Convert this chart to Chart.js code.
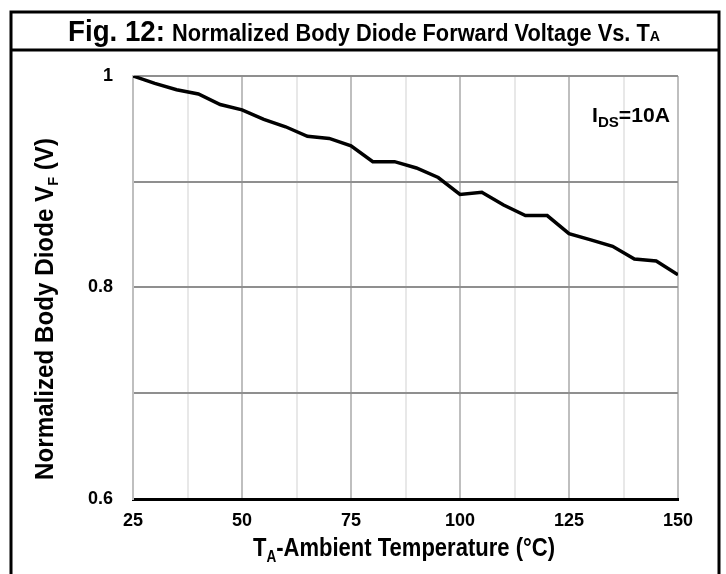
<!DOCTYPE html>
<html>
<head>
<meta charset="utf-8">
<script src="https://cdn.jsdelivr.net/npm/chart.js@4.4.1/dist/chart.umd.min.js"></script>
<style>
  html, body { margin: 0; padding: 0; background: #fff; }
  #wrap { width: 726px; height: 574px; position: relative; }
</style>
</head>
<body>
<div id="wrap"><canvas id="vfChart" width="726" height="574"></canvas></div>
<script>
// temperature (degC) and normalized forward voltage
var temps = [25, 30, 35, 40, 45, 50, 55, 60, 65, 70, 75, 80, 85, 90, 95, 100, 105, 110, 115, 120, 125, 130, 135, 140, 145, 150];
var vfNorm = [1.000, 0.993, 0.987, 0.983, 0.973, 0.968, 0.959, 0.952, 0.943, 0.941, 0.934, 0.919, 0.919, 0.913, 0.904, 0.888, 0.890, 0.878, 0.868, 0.868, 0.851, 0.845, 0.839, 0.827, 0.825, 0.812];
var xLabels = [25, 50, 75, 100, 125, 150];
var yLabels = [0.6, 0.8, 1];

var FONT = '"Liberation Sans", Arial, sans-serif';

var points = temps.map(function (t, i) { return { x: t, y: vfNorm[i] }; });

// draws text made of pieces (normal + subscript), squeezed to a given width
// so it looks like the narrow face of the original
function drawPieces(ctx, pieces, x, y, width) {
    var total = 0;
    pieces.forEach(function (p) { ctx.font = p.font; total += ctx.measureText(p.t).width; });
    var sx = width / total;
    ctx.save();
    ctx.translate(x, y);
    ctx.scale(sx, 1);
    ctx.textAlign = 'left';
    ctx.textBaseline = 'alphabetic';
    var cx = 0;
    pieces.forEach(function (p) {
        ctx.font = p.font;
        ctx.fillText(p.t, cx, p.dy || 0);
        cx += ctx.measureText(p.t).width;
    });
    ctx.restore();
}

var decorations = {
    id: 'decorations',
    afterDraw: function (chart) {
        var ctx = chart.ctx;
        ctx.save();
        ctx.fillStyle = '#000';
        ctx.strokeStyle = '#000';
        ctx.lineWidth = 3;
        // frame around the figure
        ctx.beginPath();
        ctx.moveTo(11, 574); ctx.lineTo(11, 12); ctx.lineTo(719, 12); ctx.lineTo(719, 574);
        ctx.moveTo(11, 50); ctx.lineTo(719, 50);
        ctx.stroke();

        // figure title
        drawPieces(ctx, [{ t: 'Fig. 12:', font: 'bold 29px ' + FONT }], 68, 41, 97);
        drawPieces(ctx, [
            { t: 'Normalized Body Diode Forward Voltage Vs. T', font: 'bold 23px ' + FONT },
            { t: 'A', font: 'bold 15px ' + FONT }
        ], 172, 41, 488);

        // x axis title
        drawPieces(ctx, [
            { t: 'T', font: 'bold 26px ' + FONT },
            { t: 'A', font: 'bold 16px ' + FONT, dy: 6 },
            { t: '-Ambient Temperature (\u00B0C)', font: 'bold 26px ' + FONT }
        ], 253, 556, 302);

        // y axis title
        ctx.save();
        ctx.translate(53, 480);
        ctx.rotate(-Math.PI / 2);
        drawPieces(ctx, [
            { t: 'Normalized Body Diode V', font: 'bold 25px ' + FONT },
            { t: 'F', font: 'bold 15px ' + FONT, dy: 5 },
            { t: ' (V)', font: 'bold 25px ' + FONT }
        ], 0, 0, 342);
        ctx.restore();

        // condition label
        drawPieces(ctx, [
            { t: 'I', font: 'bold 21px ' + FONT },
            { t: 'DS', font: 'bold 15px ' + FONT, dy: 5 },
            { t: '=10A', font: 'bold 21px ' + FONT }
        ], 592, 122, 78);
        ctx.restore();
    }
};

var ctx = document.getElementById('vfChart').getContext('2d');
var vfChart = new Chart(ctx, {
    type: 'line',
    data: {
        datasets: [{
            data: points,
            borderColor: '#000',
            borderWidth: 3.5,
            pointRadius: 0,
            tension: 0,
            fill: false
        }]
    },
    options: {
        responsive: false,
        animation: false,
        layout: { padding: { left: 0, top: 76, right: 48, bottom: 0 } },
        plugins: { legend: { display: false }, tooltip: { enabled: false } },
        scales: {
            x: {
                type: 'linear',
                min: 25,
                max: 150,
                ticks: {
                    stepSize: 12.5,
                    padding: 11,
                    color: '#000',
                    font: { family: FONT, size: 18, weight: 'bold' },
                    maxRotation: 0,
                    autoSkip: false,
                    callback: function (v) { return xLabels.indexOf(v) >= 0 ? String(v) : ''; }
                },
                grid: {
                    drawTicks: false,
                    lineWidth: 2,
                    color: function (c) {
                        return xLabels.indexOf(c.tick.value) >= 0 ? '#bfbfbf' : '#e8e8e8';
                    }
                },
                border: { color: '#000', width: 3 },
                afterFit: function (scale) { scale.height = 75; }
            },
            y: {
                min: 0.6,
                max: 1,
                ticks: {
                    stepSize: 0.1,
                    padding: 20,
                    color: '#000',
                    font: { family: FONT, size: 18, weight: 'bold' },
                    callback: function (v) {
                        var r = Math.round(v * 10) / 10;
                        return yLabels.indexOf(r) >= 0 ? String(r) : '';
                    }
                },
                grid: {
                    drawTicks: false,
                    lineWidth: 2,
                    color: '#8f8f8f'
                },
                border: { color: '#bfbfbf', width: 2 },
                afterFit: function (scale) { scale.width = 133; }
            }
        }
    },
    plugins: [decorations]
});
</script>
</body>
</html>
